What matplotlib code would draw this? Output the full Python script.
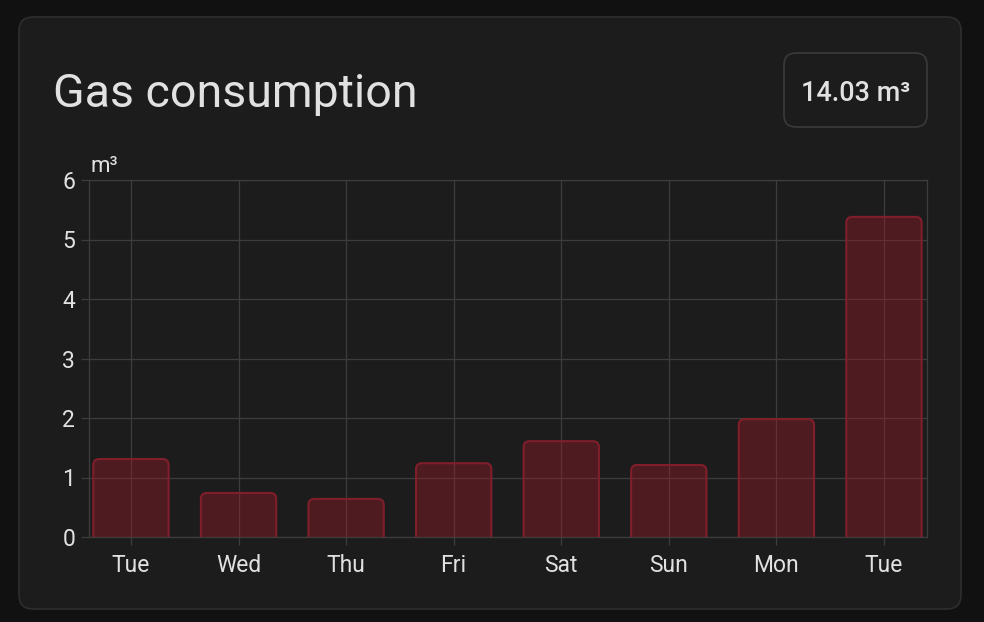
import numpy as np
import matplotlib
matplotlib.use("Agg")
import matplotlib.pyplot as plt
from matplotlib.patches import FancyBboxPatch
from matplotlib.transforms import Affine2D

### Data
days = ["Tue", "Wed", "Thu", "Fri", "Sat", "Sun", "Mon", "Tue"]
usage = [1.31, 0.74, 0.64, 1.24, 1.61, 1.21, 1.98, 5.38]
y_ticks = [0, 1, 2, 3, 4, 5, 6]
total_label = "14.03 m³"
title = "Gas consumption"
unit = "m³"

### Style
W, H = 984, 622
page_bg = "#111111"
card_bg = "#1c1c1c"
card_edge = "#2e2e2e"
grid_col = "#3d3d3d"
text_col = "#e1e1e1"
bar_fill = (0.67, 0.10, 0.155, 0.35)
bar_edge = "#801f2b"

plt.rcParams["font.family"] = ["Roboto", "DejaVu Sans"]

fig = plt.figure(figsize=(W / 100, H / 100), dpi=100, facecolor=page_bg)
# pixel coords with y going down, like the screenshot
px = Affine2D().scale(1, -1).translate(0, H)

# card (kept behind the axes)
card = FancyBboxPatch((19, 17), 942, 592, boxstyle="round,pad=0,rounding_size=14",
                      transform=px, facecolor=card_bg, edgecolor=card_edge, linewidth=1.2,
                      zorder=-10)
fig.patches.append(card)

fig.text(53, 107, title, transform=px, fontsize=33.5, color=text_col, va="baseline", ha="left")

# badge with the total
badge = FancyBboxPatch((784, 53), 143, 74, boxstyle="round,pad=0,rounding_size=12",
                       transform=px, facecolor=card_bg, edgecolor="#383838", linewidth=1.3,
                       zorder=-9)
fig.patches.append(badge)
fig.text(855.5, 101, total_label, transform=px, fontsize=19.5, fontweight="medium",
         color=text_col, va="baseline", ha="center")

### Chart
ax = fig.add_axes([89 / W, 1 - 537 / H, (927 - 89) / W, (537 - 180) / H])
ax.set_facecolor("none")
x = np.arange(len(days))
ax.set_xlim(-0.39, len(days) - 1 + 0.40)
ax.set_ylim(0, 6)

bw = 0.70
# rounded top corners; box extends below 0 so the bottom corners are clipped away
xpx = 107.6
ypx = 59.5
for xi, v in zip(x, usage):
    p = FancyBboxPatch((xi - bw / 2, -0.2), bw, v + 0.2,
                       boxstyle="round,pad=0,rounding_size=0.055",
                       mutation_aspect=xpx / ypx,
                       facecolor=bar_fill, edgecolor=bar_edge, linewidth=1.5, zorder=3)
    ax.add_patch(p)

ax.set_xticks(x)
ax.set_xticklabels(days)
ax.set_yticks(y_ticks)
ax.grid(True, color=grid_col, linewidth=0.9, zorder=1)
ax.set_axisbelow(True)
for s in ax.spines.values():
    s.set_color(grid_col)
    s.set_linewidth(0.9)
ax.tick_params(axis="both", colors=grid_col, length=6, width=0.9, labelcolor=text_col,
               labelsize=16.5)
ax.tick_params(axis="y", pad=4)
ax.tick_params(axis="x", pad=6.5)

fig.text(90, 172, unit, transform=px, fontsize=16, color=text_col, va="baseline", ha="left")

fig.savefig("out.png", dpi=100, facecolor=page_bg)
